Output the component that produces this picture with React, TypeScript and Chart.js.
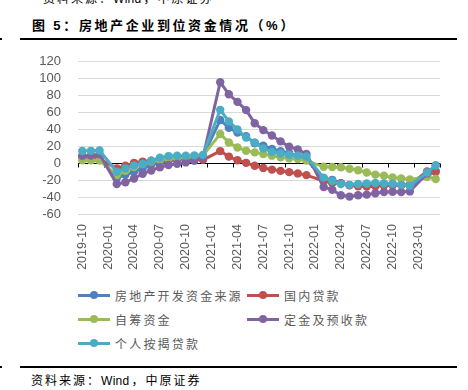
import React, { useEffect, useRef } from "react";
import { Chart, registerables } from "chart.js";

Chart.register(...registerables);

const categories: string[] = [
  "2019-10", "2019-11", "2019-12",
  "2020-01", "2020-02", "2020-03", "2020-04", "2020-05", "2020-06", "2020-07", "2020-08", "2020-09", "2020-10", "2020-11", "2020-12",
  "2021-01", "2021-02", "2021-03", "2021-04", "2021-05", "2021-06", "2021-07", "2021-08", "2021-09", "2021-10", "2021-11", "2021-12",
  "2022-01", "2022-02", "2022-03", "2022-04", "2022-05", "2022-06", "2022-07", "2022-08", "2022-09", "2022-10", "2022-11", "2022-12",
  "2023-01", "2023-02", "2023-03",
];

const seriesNames = ["房地产开发资金来源", "国内贷款", "自筹资金", "定金及预收款", "个人按揭贷款"];
const seriesColors = ["#4F81BD", "#C0504D", "#9BBB59", "#8064A2", "#4BACC6"];

const totalFunds: (number | null)[] = [
  7.0, 7.1, 7.6,
  null, -17.5, -13.6, -10.0, -6.1, -1.8, 0.7, 2.6, 4.4, 5.5, 7.1, 8.1,
  null, 51.2, 41.9, 36.4, 32.1, 23.5, 20.7, 17.0, 14.2, 11.8, 8.8, 4.2,
  null, -17.7, -19.6, -23.6, -25.8, -25.3, -25.4, -25.0, -24.5, -24.7, -25.7, -25.9,
  null, -15.2, -9.0,
];
const domesticLoans: (number | null)[] = [
  8.5, 7.0, 5.1,
  null, -6.0, -3.0, 0.5, 2.0, 3.0, 4.0, 4.5, 5.0, 5.0, 5.0, 4.0,
  null, 14.4, 7.9, 3.5, 0.5, -3.0, -5.5, -7.5, -9.0, -10.5, -12.0, -14.0,
  null, -21.0, -23.5, -23.7, -26.0, -27.2, -27.4, -27.2, -26.4, -26.0, -25.7, -25.4,
  null, -9.6, -10.3,
];
const selfRaised: (number | null)[] = [
  3.5, 3.6, 3.1,
  null, -14.0, -9.0, -4.5, -1.0, 2.0, 4.0, 5.5, 6.5, 7.0, 8.0, 9.0,
  null, 34.7, 24.5, 18.7, 14.8, 12.9, 11.0, 9.0, 7.0, 5.8, 5.1, 3.1,
  null, -4.2, -4.4, -4.7, -6.4, -8.3, -11.0, -13.4, -14.6, -16.7, -18.0, -19.1,
  null, -16.0, -18.6,
];
const depositsAdvance: (number | null)[] = [
  9.0, 9.2, 10.7,
  null, -24.5, -22.5, -18.0, -12.4, -8.5, -4.7, -2.0, -0.5, 1.0, 3.0, 7.0,
  null, 95.9, 81.6, 72.6, 62.9, 47.4, 39.2, 32.9, 25.9, 19.5, 16.4, 11.1,
  null, -28.0, -31.4, -37.9, -39.4, -37.9, -37.1, -35.4, -34.1, -33.7, -34.1, -33.3,
  null, -12.0, -2.5,
];
const mortgageLoans: (number | null)[] = [
  14.5, 14.7, 15.1,
  null, -10.0, -6.0, -2.5, -0.5, 3.0, 6.5, 8.5, 9.0, 9.0, 9.3, 9.9,
  null, 63.2, 49.5, 40.0, 30.4, 24.5, 17.5, 13.5, 11.5, 10.0, 9.0, 8.0,
  null, -17.0, -20.9, -24.5, -25.5, -24.5, -24.0, -23.3, -24.0, -24.2, -25.5, -26.5,
  null, -11.0, -2.6,
];

const seriesValues = [totalFunds, domesticLoans, selfRaised, depositsAdvance, mortgageLoans];

const yMin = -60;
const yMax = 120;
const yStep = 20;
const labelEvery = 3;

const titleText = "图 5：房地产企业到位资金情况（%）";
const sourceText = "资料来源：Wind，中原证券";

const CJK = '"Noto Sans CJK SC", "Liberation Sans", sans-serif';

function Spaced({ text, spacing }: { text: string; spacing: number }) {
  const parts = text.split(/([A-Za-z0-9%]+)/);
  return (
    <>
      {parts.map((p, i) =>
        /^[A-Za-z0-9%]+$/.test(p) ? (
          <span key={i} style={{ fontFamily: '"Liberation Sans", Arial, sans-serif', letterSpacing: 0.3, marginRight: spacing }}>{p}</span>
        ) : (
          <span key={i} style={{ letterSpacing: spacing }}>{p}</span>
        )
      )}
    </>
  );
}

const zeroAxisPlugin = {
  id: "zeroAxis",
  beforeDatasetsDraw(chart: any) {
    const { ctx, chartArea, scales } = chart;
    const y = Math.round(scales.y.getPixelForValue(0)) + 0.5;
    ctx.save();
    ctx.strokeStyle = "#000000";
    ctx.lineWidth = 1;
    ctx.beginPath();
    ctx.moveTo(chartArea.left, y);
    ctx.lineTo(chartArea.right, y);
    const n = categories.length;
    const w = (chartArea.right - chartArea.left) / n;
    for (let i = 0; i <= n; i += labelEvery) {
      const x = Math.round(chartArea.left + i * w) + 0.5;
      ctx.moveTo(x, y);
      ctx.lineTo(x, y + 4);
    }
    ctx.stroke();
    ctx.restore();
  },
};

function LegendItem({ name, color, x, y }: { name: string; color: string; x: number; y: number }) {
  return (
    <div style={{ position: "absolute", left: x, top: y - 10, height: 20, display: "flex", alignItems: "center" }}>
      <div style={{ position: "relative", width: 32, height: 20 }}>
        <div style={{ position: "absolute", left: 0, top: 8.5, width: 32, height: 3, background: color }} />
        <div style={{ position: "absolute", left: 12, top: 6, width: 8, height: 8, borderRadius: 4, background: color }} />
      </div>
      <span style={{ marginLeft: 5, fontFamily: CJK, fontSize: 12, letterSpacing: 2.2, color: "#595959", whiteSpace: "nowrap" }}>{name}</span>
    </div>
  );
}

export default function App() {
  const canvasRef = useRef<HTMLCanvasElement | null>(null);

  useEffect(() => {
    const canvas = canvasRef.current;
    if (!canvas) return;
    const chart = new Chart(canvas, {
      type: "line",
      data: {
        labels: categories,
        datasets: seriesNames.map((name, i) => ({
          label: name,
          data: seriesValues[i],
          borderColor: seriesColors[i],
          backgroundColor: seriesColors[i],
          pointBackgroundColor: seriesColors[i],
          pointBorderColor: seriesColors[i],
          pointBorderWidth: 0,
          pointRadius: 4.2,
          borderWidth: 3,
          spanGaps: true,
          tension: 0,
          order: seriesNames.length - i,
        })),
      },
      options: {
        responsive: false,
        animation: false,
        devicePixelRatio: 1,
        layout: { padding: { top: 0, right: 28, left: 0, bottom: 0 } },
        plugins: {
          legend: { display: false },
          tooltip: { enabled: false },
        },
        scales: {
          x: {
            offset: true,
            grid: { display: false, drawTicks: false },
            border: { display: false },
            ticks: {
              autoSkip: false,
              maxRotation: 90,
              minRotation: 90,
              padding: 10,
              color: "#595959",
              font: { family: '"Liberation Sans", Arial, sans-serif', size: 12.5 },
              callback: (_v: any, idx: number) => (idx % labelEvery === 0 ? categories[idx] : ""),
            },
            afterFit: (scale: any) => {
              scale.height = 66;
            },
          },
          y: {
            min: yMin,
            max: yMax,
            grid: { color: "#D9D9D9", lineWidth: 1, drawTicks: false },
            border: { display: false },
            ticks: {
              autoSkip: false,
              stepSize: yStep,
              padding: 17,
              color: "#595959",
              font: { family: '"Liberation Sans", Arial, sans-serif', size: 13 },
            },
            afterFit: (scale: any) => {
              scale.width = 78;
            },
          },
        },
      },
      plugins: [zeroAxisPlugin],
    });
    return () => chart.destroy();
  }, []);

  const legendPos = [
    { x: 78, y: 295 },
    { x: 247, y: 295 },
    { x: 78, y: 319 },
    { x: 247, y: 319 },
    { x: 78, y: 343 },
  ];

  return (
    <div style={{ position: "fixed", left: 0, top: 0, width: 468, height: 390, background: "#fff", overflow: "hidden" }}>
      <div style={{ position: "absolute", left: 43, top: -10, fontFamily: CJK, fontSize: 12, color: "#000", whiteSpace: "nowrap", lineHeight: "16px" }}>
        <Spaced text={sourceText} spacing={2} />
      </div>
      <div style={{ position: "absolute", left: 32, top: 16, fontFamily: CJK, fontSize: 13, fontWeight: "bold", color: "#000", whiteSpace: "nowrap", lineHeight: "18px" }}>
        <Spaced text={titleText} spacing={2.6} />
      </div>
      <div style={{ position: "absolute", left: 0, top: 38, width: 2, height: 2, background: "#000" }} />
      <div style={{ position: "absolute", left: 20, top: 38, width: 437, height: 2, background: "#000" }} />
      <canvas ref={canvasRef} width={468} height={243} style={{ position: "absolute", left: 0, top: 37, width: 468, height: 243 }} />
      {seriesNames.map((name, i) => (
        <LegendItem key={name} name={name} color={seriesColors[i]} x={legendPos[i].x} y={legendPos[i].y} />
      ))}
      <div style={{ position: "absolute", left: 0, top: 366, width: 2, height: 2, background: "#000" }} />
      <div style={{ position: "absolute", left: 20, top: 366, width: 437, height: 2, background: "#000" }} />
      <div style={{ position: "absolute", left: 31, top: 372, fontFamily: CJK, fontSize: 12, color: "#000", whiteSpace: "nowrap", lineHeight: "16px" }}>
        <Spaced text={sourceText} spacing={2} />
      </div>
    </div>
  );
}
